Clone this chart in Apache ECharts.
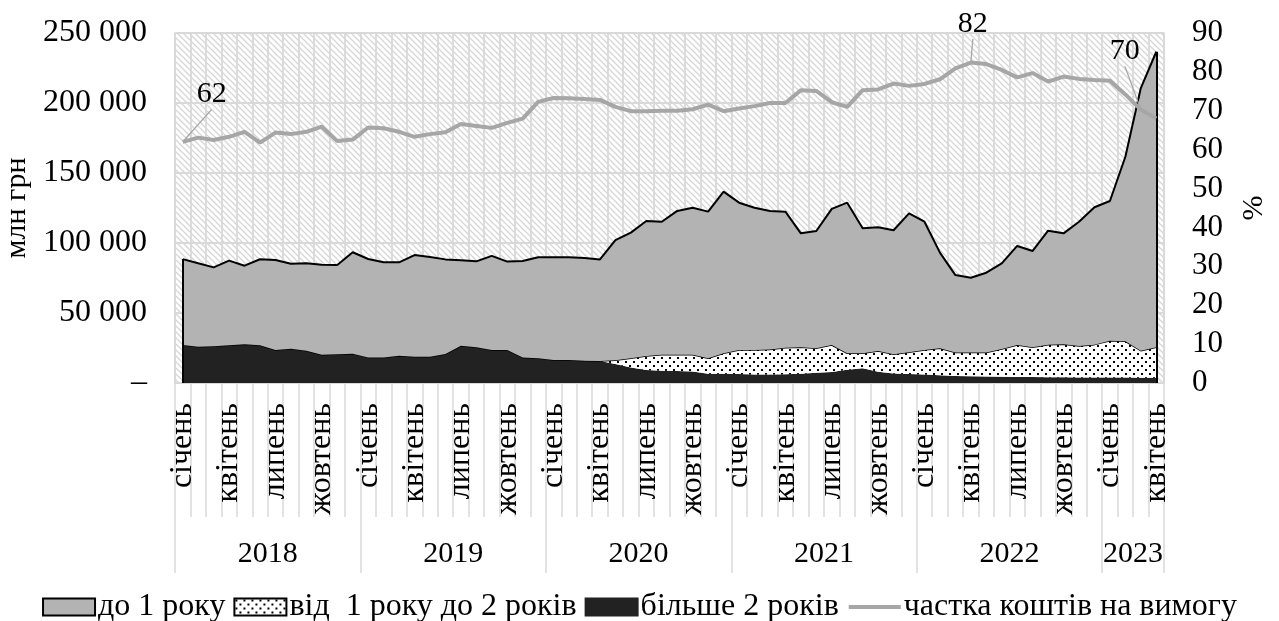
<!DOCTYPE html>
<html>
<head>
<meta charset="utf-8">
<script src="https://cdn.jsdelivr.net/npm/echarts@6/dist/echarts.min.js"></script>
<style>
  html, body { margin: 0; padding: 0; background: #fff; }
  #chart { width: 1279px; height: 621px; }
</style>
</head>
<body>
<div id="chart"></div>
<script>
// Months and years on the category axis
const monthNames = ['січень', 'лютий', 'березень', 'квітень', 'травень', 'червень',
  'липень', 'серпень', 'вересень', 'жовтень', 'листопад', 'грудень'];
const years = ['2018', '2019', '2020', '2021', '2022', '2023'];
const monthsInYear = [12, 12, 12, 12, 12, 4];

// Deposits by term, млн грн (stacked)
const over2Years = [
  27100, 25900, 26200, 26900, 27600, 26900, 23600, 24500, 23100, 20200, 20500, 20900,
  18300, 18300, 19500, 18800, 18800, 20700, 26600, 25500, 23500, 23600, 18300, 17600,
  16400, 16400, 15900, 15700, 13500, 11000, 9300, 8800, 8600, 8300, 6600, 6600,
  6400, 6000, 6000, 6200, 6600, 7400, 7800, 9500, 10500, 8100, 6700, 6400,
  6000, 5600, 5000, 4800, 4700, 4500, 4300, 4200, 4100, 4100, 4000, 4000,
  4000, 4000, 3800, 3800
];
const from1To2Years = [
  0, 0, 0, 0, 0, 0, 0, 0, 0, 0, 0, 0,
  0, 0, 0, 0, 0, 0, 0, 0, 0, 0, 0, 0,
  0, 0, 0, 0, 2700, 6700, 10000, 11400, 11600, 11900, 11000, 14600,
  17200, 17600, 18000, 19000, 18900, 17400, 19300, 11700, 10700, 14800, 13800, 15500,
  17600, 19200, 16700, 16900, 17000, 19800, 22800, 21300, 23300, 23500, 22400, 23400,
  26200, 25800, 19300, 21700
];
const upTo1Year = [
  61400, 59600, 56400, 60500, 56200, 61500, 64300, 60700, 62400, 64300, 63800, 72500,
  70300, 67900, 66700, 72600, 71200, 67600, 61000, 61400, 67300, 63100, 68800, 72200,
  73400, 73400, 73400, 72600, 85900, 89700, 96400, 95000, 102700, 105000, 104800, 115500,
  105200, 101600, 98900, 97200, 81400, 83800, 97300, 107600, 89300, 88300, 88600, 99300,
  91600, 68300, 55400, 53500, 57100, 61200, 70800, 68800, 81400, 79300, 88800, 98100,
  99800, 131800, 187600, 211100
];
// Share of demand deposits, %
const demandShare = [
  62.0, 63.1, 62.5, 63.3, 64.6, 61.8, 64.4, 64.0, 64.6, 65.9, 62.2, 62.6,
  65.7, 65.5, 64.6, 63.3, 64.0, 64.5, 66.6, 66.1, 65.6, 66.9, 68.0, 72.3,
  73.3, 73.2, 73.0, 72.8, 71.0, 69.9, 69.9, 70.0, 70.0, 70.4, 71.6, 69.9,
  70.6, 71.2, 72.0, 72.0, 75.3, 75.1, 72.2, 71.0, 75.3, 75.5, 77.0, 76.4,
  76.9, 78.1, 80.9, 82.4, 82.0, 80.5, 78.6, 79.7, 77.5, 78.8, 78.2, 77.9,
  77.7, 74.2, 70.3, 68.0
];
// Months whose share value is labelled
const labelledMonths = [0, 51, 62];

const names = ['до 1 року', 'від  1 року до 2 років', 'більше 2 років', 'частка коштів на вимогу'];

// Category values: "YYYY month"
const categories = [];
years.forEach((y, yi) => {
  for (let m = 0; m < monthsInYear[yi]; m++) categories.push(y + ' ' + monthNames[m]);
});

// Year label positions (centre of each year's span, in months) and year starts
const yearCenters = {};
const yearStarts = [];
let start = 0;
years.forEach((y, yi) => {
  yearStarts.push(start);
  yearCenters[start + monthsInYear[yi] / 2] = y;
  start += monthsInYear[yi];
});

const FONT = '"Liberation Serif", "Times New Roman", serif';
const GRID = '#d9d9d9';

function hatchPattern() {
  const s = 6;
  const c = document.createElement('canvas');
  c.width = s; c.height = s;
  const g = c.getContext('2d');
  g.fillStyle = '#ffffff';
  g.fillRect(0, 0, s, s);
  g.strokeStyle = '#d6d6d6';
  g.lineWidth = 1.3;
  g.beginPath();
  g.moveTo(-1, -1); g.lineTo(s + 1, s + 1);
  g.moveTo(-1, s - 1); g.lineTo(1, s + 1);
  g.moveTo(s - 1, -1); g.lineTo(s + 1, 1);
  g.stroke();
  return { image: c, repeat: 'repeat' };
}

function dotPattern() {
  const s = 8;
  const c = document.createElement('canvas');
  c.width = s; c.height = s;
  const g = c.getContext('2d');
  g.fillStyle = '#ffffff';
  g.fillRect(0, 0, s, s);
  g.fillStyle = '#000000';
  g.fillRect(1, 1, 2, 2);
  g.fillRect(5, 5, 2, 2);
  return { image: c, repeat: 'repeat' };
}

const dots = dotPattern();
const lastIdx = categories.length - 1;
const totalAt = i => over2Years[i] + from1To2Years[i] + upTo1Year[i];

// Label offsets for the share labels (relative to the default 'top' position)
const labelShift = { 0: [29, -27], 51: [2, -18], 62: [-16, -38] };

// Share line: labelled months carry a tiny invisible symbol that holds the label
const shareData = demandShare.map((v, i) => labelledMonths.indexOf(i) >= 0
  ? {
      value: v,
      symbol: 'circle',
      symbolSize: 1,
      itemStyle: { color: 'rgba(0,0,0,0)' },
      label: { show: true },
      labelLine: { show: true }
    }
  : v);

const chart = echarts.init(document.getElementById('chart'), null, { renderer: 'canvas' });

chart.setOption({
  animation: false,
  backgroundColor: '#ffffff',
  textStyle: { fontFamily: FONT, color: '#000' },
  grid: {
    left: 175, right: 115, top: 33, height: 350,
    show: true,
    backgroundColor: hatchPattern(),
    borderWidth: 0,
    outerBoundsMode: 'none'
  },
  legend: {
    data: [
      { name: names[0], icon: 'rect' },
      { name: names[1], icon: 'rect' },
      { name: names[2], icon: 'rect' },
      { name: names[3], itemStyle: { opacity: 0 }, lineStyle: { width: 4, color: '#a6a6a6' } }
    ],
    top: 586,
    left: 'center',
    itemWidth: 52,
    itemHeight: 17,
    itemGap: 8,
    textStyle: { fontFamily: FONT, fontSize: 32, color: '#000', padding: [0, 0, 0, -2] }
  },
  xAxis: [
    {
      type: 'category',
      position: 'bottom',
      data: categories,
      boundaryGap: true,
      axisLine: { show: true, lineStyle: { color: GRID, width: 1.5 } },
      axisTick: { show: true, interval: 0, length: 134, lineStyle: { color: GRID, width: 1.5 } },
      splitLine: { show: true, interval: 0, lineStyle: { color: GRID, width: 1.8 } },
      axisLabel: {
        interval: 2, rotate: 90, margin: 20,
        fontFamily: FONT, fontSize: 32, color: '#000',
        formatter: v => v.split(' ')[1]
      }
    },
    {
      type: 'category',
      position: 'bottom',
      data: categories,
      boundaryGap: true,
      axisLine: { show: false },
      axisTick: {
        show: true, length: 190,
        interval: i => yearStarts.indexOf(i) >= 0,
        lineStyle: { color: GRID, width: 1.5 }
      },
      axisLabel: { show: false },
      splitLine: { show: false }
    },
    {
      type: 'value',
      position: 'bottom',
      min: 0, max: categories.length, interval: 2,
      axisLine: { show: false },
      axisTick: { show: false },
      splitLine: { show: false },
      axisLabel: {
        margin: 156, fontFamily: FONT, fontSize: 30, color: '#000',
        showMinLabel: true, showMaxLabel: true,
        formatter: v => yearCenters[v] || ''
      }
    }
  ],
  yAxis: [
    {
      type: 'value',
      min: 0, max: 250000, interval: 50000,
      name: 'млн грн',
      nameLocation: 'middle',
      nameGap: 124,
      nameRotate: 90,
      nameTextStyle: { fontFamily: FONT, fontSize: 30, color: '#000' },
      axisLine: { show: true, lineStyle: { color: GRID, width: 1.5 } },
      axisTick: { show: false },
      splitLine: { show: true, lineStyle: { color: GRID, width: 1.8 } },
      axisLabel: {
        margin: 28, fontFamily: FONT, fontSize: 32, color: '#000',
        formatter: v => v === 0 ? '–' : String(v).replace(/\B(?=(\d{3})+(?!\d))/g, ' ')
      }
    },
    {
      type: 'value',
      min: 0, max: 90, interval: 10,
      position: 'right',
      name: '%',
      nameLocation: 'middle',
      nameGap: 75,
      nameRotate: 90,
      nameTextStyle: { fontFamily: FONT, fontSize: 30, color: '#000' },
      axisLine: { show: true, lineStyle: { color: GRID, width: 1.5 } },
      axisTick: { show: false },
      splitLine: { show: false },
      axisLabel: { margin: 28, fontFamily: FONT, fontSize: 31, color: '#000' }
    }
  ],
  series: [
    {
      name: names[2],
      type: 'line',
      stack: 'term',
      data: over2Years,
      symbol: 'none',
      itemStyle: { color: '#222222', borderColor: '#222222', borderWidth: 1 },
      lineStyle: { width: 0, color: '#222222' },
      areaStyle: { color: '#222222', opacity: 1 },
      z: 2
    },
    {
      name: names[1],
      type: 'line',
      stack: 'term',
      data: from1To2Years,
      symbol: 'none',
      itemStyle: { color: dots, borderColor: '#000', borderWidth: 1 },
      lineStyle: { width: 1.5, color: '#000' },
      areaStyle: { color: dots, opacity: 1 },
      z: 3
    },
    {
      name: names[0],
      type: 'line',
      stack: 'term',
      data: upTo1Year,
      symbol: 'none',
      itemStyle: { color: '#b3b3b3', borderColor: '#000', borderWidth: 1 },
      lineStyle: { width: 2, color: '#000' },
      areaStyle: { color: '#b3b3b3', opacity: 1 },
      markLine: {
        silent: true,
        symbol: 'none',
        label: { show: false },
        lineStyle: { color: '#000', type: 'solid', width: 2 },
        data: [
          [{ coord: [categories[0], 0] }, { coord: [categories[0], totalAt(0)] }],
          [{ coord: [categories[lastIdx], 0] }, { coord: [categories[lastIdx], totalAt(lastIdx)] }]
        ]
      },
      z: 4
    },
    {
      name: names[3],
      type: 'line',
      yAxisIndex: 1,
      data: shareData,
      symbol: 'none',
      showSymbol: true,
      itemStyle: { color: '#a6a6a6' },
      lineStyle: { width: 4, color: '#a6a6a6' },
      label: {
        show: false,
        position: 'top',
        distance: 5,
        fontFamily: FONT,
        fontSize: 30,
        color: '#000000',
        formatter: p => Math.round(p.value)
      },
      labelLine: { show: false, lineStyle: { color: '#a6a6a6', width: 1.3 } },
      labelLayout: p => {
        const s = labelShift[p.dataIndex];
        return s ? { dx: s[0], dy: s[1] } : {};
      },
      z: 5
    }
  ]
});
</script>
</body>
</html>
